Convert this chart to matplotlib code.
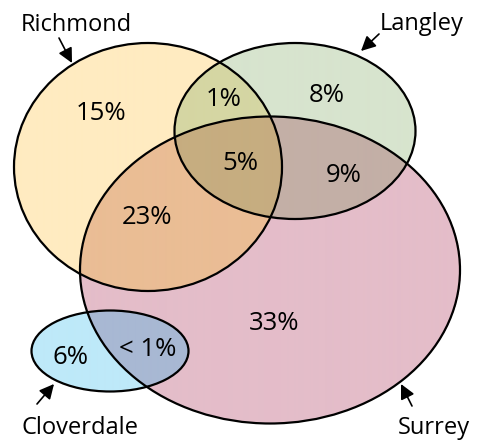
import numpy as np
import matplotlib
matplotlib.use("Agg")
import matplotlib.pyplot as plt
from matplotlib.patches import Ellipse

# set names and region shares
sets = ["Richmond", "Langley", "Surrey", "Cloverdale"]
region_keys = ["R", "RL", "L", "RLS", "LS", "RS", "S", "C", "CS"]
region_text = ["15%", "1%", "8%", "5%", "9%", "23%", "33%", "6%", "< 1%"]

# geometry in pixel coords (y down): cx, cy, width, height
shapes = {
    "Richmond": (148, 167, 268, 248),
    "Langley": (295, 131, 241, 176),
    "Surrey": (270, 270, 380, 307),
    "Cloverdale": (110, 351, 157, 81),
}
region_colors = {
    "R": "#FFEBC1", "L": "#D7E4CE", "S": "#E4BDC9", "C": "#BEE9F9",
    "RS": "#EABD95", "RL": "#D5D6A3", "LS": "#C3AFA6", "RLS": "#C6AD80",
    "CS": "#A8B8D3",
}
text_pos = {
    "R": (101, 113), "RL": (224, 99), "L": (327, 95), "RLS": (240, 163),
    "LS": (344, 175), "RS": (147, 217), "S": (274, 323), "C": (70, 357),
    "CS": (148, 349),
}
# label position, arrow tail, arrow tip
labels = {
    "Richmond": ((76, 25), (59, 38), (72, 63)),
    "Langley": ((422, 24), (379, 34), (361, 51)),
    "Cloverdale": ((80, 428), (37, 404), (54, 384)),
    "Surrey": ((434, 428), (412, 406), (401, 384)),
}

W, H = 486, 441
fig = plt.figure(figsize=(W / 100, H / 100), dpi=100)
ax = fig.add_axes([0, 0, 1, 1])
ax.set_xlim(0, W)
ax.set_ylim(H, 0)
ax.axis("off")

# fill regions on a pixel grid
yy, xx = np.mgrid[0:H, 0:W] + 0.5
inside = {}
for name, (cx, cy, w, h) in shapes.items():
    inside[name[0]] = ((xx - cx) / (w / 2)) ** 2 + ((yy - cy) / (h / 2)) ** 2 <= 1

img = np.ones((H, W, 4))
img[..., 3] = 0
for key in region_keys:
    mask = np.ones((H, W), bool)
    for k in "RLSC":
        mask &= inside[k] if k in key else ~inside[k]
    img[mask] = matplotlib.colors.to_rgba(region_colors[key])
ax.imshow(img, extent=(0, W, H, 0), interpolation="bilinear", zorder=1)

for name, (cx, cy, w, h) in shapes.items():
    ax.add_patch(Ellipse((cx, cy), w, h, fill=False, ec="black", lw=1.6, zorder=2))

font = ["Open Sans", "DejaVu Sans"]
for key, txt in zip(region_keys, region_text):
    x, y = text_pos[key]
    ax.text(x, y, txt, ha="center", va="center", fontsize=18.5, family=font, zorder=3)

for name in sets:
    (lx, ly), tail, tip = labels[name]
    ax.text(lx, ly, name, ha="center", va="center", fontsize=17, family=font, zorder=3)
    ax.annotate("", xy=tip, xytext=tail,
                arrowprops=dict(arrowstyle="-|>", color="black", lw=1.2, mutation_scale=22,
                                shrinkA=0, shrinkB=0))

plt.savefig("out.png", dpi=100)
plt.close()
